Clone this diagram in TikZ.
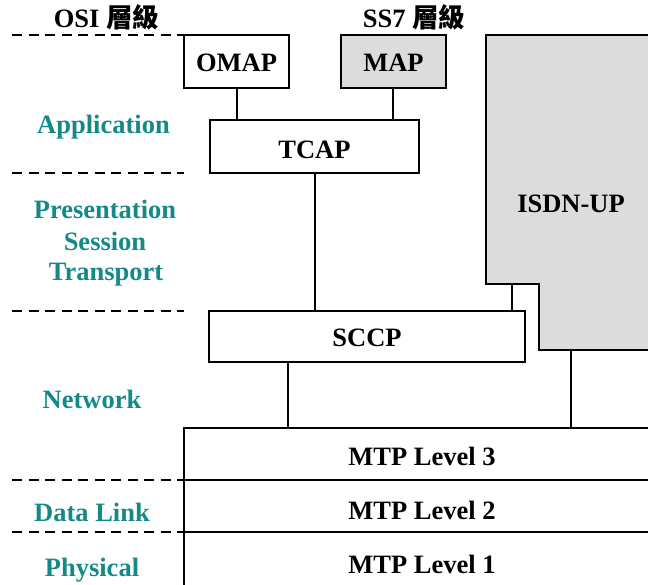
\documentclass[tikz,border=0pt]{standalone}
\usepackage{fontspec}
\setmainfont{Liberation Serif}
\newfontfamily\cjk{Noto Sans CJK TC}
\definecolor{ositeal}{RGB}{20,138,136}
\definecolor{ss7grey}{RGB}{220,220,220}
\begin{document}
\begin{tikzpicture}[x=1pt,y=-1pt,
  every node/.style={font=\fontsize{26.5}{31}\selectfont\bfseries, inner sep=0pt},
  blk/.style={draw, line width=2.7pt, fill=white, text depth=0pt},
  greyblk/.style={blk, fill=ss7grey},
  link/.style={line width=2.7pt},
  osiline/.style={line width=2.7pt, dash pattern=on 10pt off 6.5pt},
  osilabel/.style={text=ositeal, anchor=base}]
\useasboundingbox (0,0) rectangle (648,584);
\clip (0,0) rectangle (648,584);

% column headings
\node[anchor=base] (osihead) at (106.5,27) {OSI {\cjk 層級}};
\node[anchor=base] (ss7head) at (414,27) {SS7 {\cjk 層級}};

% OSI layer separators
\coordinate (s1a) at (12,35);  \coordinate (s1b) at (184,35);
\coordinate (s2a) at (12,173); \coordinate (s2b) at (184,173);
\coordinate (s3a) at (12,311); \coordinate (s3b) at (184,311);
\coordinate (s4a) at (12,480); \coordinate (s4b) at (184,480);
\coordinate (s5a) at (12,532); \coordinate (s5b) at (184,532);
\foreach \s in {1,...,5} \draw[osiline] (s\s a) -- (s\s b);

% OSI layer names
\node[osilabel] (app)   at (103.5,133) {Application};
\node[osilabel] (pres)  at (105,218.5) {Presentation};
\node[osilabel] (sess)  at (105,250) {Session};
\node[osilabel] (trans) at (106,280) {Transport};
\node[osilabel] (net)   at (92,408) {Network};
\node[osilabel] (dl)    at (92,521.5) {Data Link};
\node[osilabel] (phy)   at (92,576.5) {Physical};

% ISDN user part (stepped block running off the right edge)
\draw[line width=2.7pt, fill=ss7grey]
  (660,35) -- (486,35) -- (486,284) -- (539,284) -- (539,350) -- (660,350);
\node[anchor=base] (isdn) at (571,212) {ISDN-UP};
\coordinate (isdnstep) at (512,284);
\coordinate (isdnbot) at (571,350);

% SS7 blocks (text height places each baseline)
\node[blk, minimum width=105pt, minimum height=53pt, text height=20.4pt] (omap) at (236.5,61.5) {OMAP};
\node[greyblk, minimum width=105pt, minimum height=53pt, text height=20.4pt] (map) at (393.5,61.5) {MAP};
\node[blk, minimum width=209pt, minimum height=53pt, text height=23pt] (tcap) at (314.5,146.5) {TCAP};
\node[blk, minimum width=316pt, minimum height=51pt, text height=20.4pt] (sccp) at (367,336.5) {SCCP};

% MTP levels
\node[blk, minimum width=476pt, minimum height=52pt, text height=22pt] (mtp3) at (422,454) {MTP Level 3};
\node[blk, minimum width=476pt, minimum height=52pt, text height=26pt] (mtp2) at (422,506) {MTP Level 2};
\node[blk, minimum width=476pt, minimum height=60pt, text height=22pt] (mtp1) at (422,562) {MTP Level 1};

% connectors between layers
\draw[link] (omap.south -| 237,0) -- (tcap.north -| 237,0);
\draw[link] (map.south -| 393,0) -- (tcap.north -| 393,0);
\draw[link] (tcap.south -| 315,0) -- (sccp.north -| 315,0);
\draw[link] (isdnstep) -- (sccp.north -| isdnstep);
\draw[link] (sccp.south -| 288,0) -- (mtp3.north -| 288,0);
\draw[link] (isdnbot) -- (mtp3.north -| isdnbot);
\end{tikzpicture}
\end{document}
